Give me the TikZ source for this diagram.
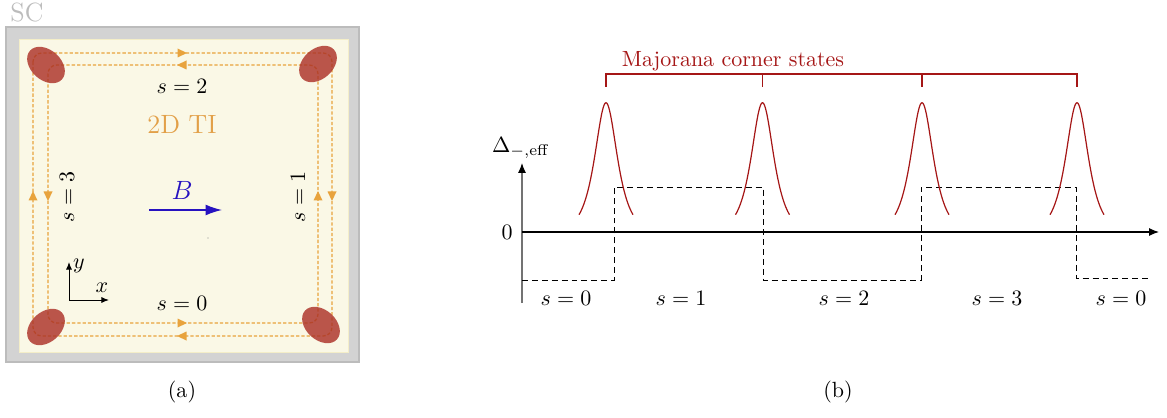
\documentclass[tikz,border=0pt]{standalone}
\usetikzlibrary{arrows.meta}
\definecolor{scgray}{RGB}{211,211,211}
\definecolor{scedge}{RGB}{188,188,188}
\definecolor{cream}{RGB}{250,248,230}
\definecolor{creamedge}{RGB}{244,238,200}
\definecolor{orng}{RGB}{232,163,61}
\definecolor{tiorng}{RGB}{226,160,72}
\definecolor{blobred}{RGB}{172,50,40}
\definecolor{bblue}{RGB}{38,18,192}
\definecolor{mred}{RGB}{165,22,22}
\tikzset{
  orbit/.style={orng, line width=0.6pt, dash pattern=on 1.5pt off 0.9pt, rounded corners=4pt},
  blob/.style={fill=blobred, fill opacity=0.82},
  orarrow/.pic={\fill[orng] (5,0) -- (-4.5,-4.5) -- (-4.5,4.5) -- cycle;},
  lbl/.style={inner sep=0pt},
  stepfn/.style={black, line width=0.42pt, dash pattern=on 2.7pt off 1.8pt},
  peak/.style={mred, line width=0.55pt},
  axis/.style={line width=0.5pt, -{Latex[length=4.5pt,width=3.6pt]}},
}
\begin{document}
\begin{tikzpicture}[x=0.4545pt,y=-0.4545pt]
\useasboundingbox (0,0) rectangle (1167,418);
% ---------------- panel (a) ----------------
\node[lbl, text=scedge, font=\large] (sc) at (27,12) {SC};
\draw[scedge, fill=scgray, line width=0.5pt] (6,27) rectangle (359,362);
\draw[creamedge, fill=cream, line width=0.4pt] (19,39) rectangle (348,352);
% edge channels
\draw[orbit] (33,53) rectangle (332,336);
\draw[orbit] (48,65) rectangle (318,323);
% outer loop arrows (clockwise)
\pic at (182,53) {orarrow};
\pic[rotate=-90] at (332,196) {orarrow};
\pic[rotate=180] at (182,336) {orarrow};
\pic[rotate=90] at (33,196) {orarrow};
% inner loop arrows (counter-clockwise)
\pic[rotate=180] at (182,65) {orarrow};
\pic[rotate=-90] at (48,196) {orarrow};
\pic at (182,323) {orarrow};
\pic[rotate=90] at (318,196) {orarrow};
% Majorana corner blobs
\fill[blob, rotate around={-42:(46,65)}] (46,65) ellipse [x radius=21.5, y radius=15];
\fill[blob, rotate around={42:(318,64)}] (318,64) ellipse [x radius=21.5, y radius=15];
\fill[blob, rotate around={42:(46,327)}] (46,327) ellipse [x radius=21.5, y radius=15];
\fill[blob, rotate around={-42:(321,325)}] (321,325) ellipse [x radius=21.5, y radius=15];
% texts
\node[lbl] (s2) at (182,86) {$s=2$};
\node[lbl, text=tiorng, font=\large] (ti) at (182,124) {2D TI};
\node[lbl, rotate=90] (s3) at (67,197) {$s=3$};
\node[lbl, rotate=90] (s1) at (298,197) {$s=1$};
\node[lbl] (s0) at (182,303) {$s=0$};
\node[lbl, text=bblue, font=\fontsize{13}{15}\selectfont] (B) at (182,190) {$B$};
\coordinate (b0) at (149,210);
\coordinate (b1) at (222,210);
\draw[bblue, line width=0.65pt, -{Latex[length=7.5pt,width=5pt]}] (b0) -- (b1);
\fill[black!45] (208,238) circle [radius=0.7];
% coordinate axes
\coordinate (o) at (69,300);
\coordinate (oy) at (69,262);
\coordinate (ox) at (109,300);
\draw[line width=0.45pt, -{Latex[length=3.5pt,width=2.8pt]}] (o) -- (oy);
\draw[line width=0.45pt, -{Latex[length=3.5pt,width=2.8pt]}] (o) -- (ox);
\node[lbl] (ylab) at (79,266) {$y$};
\node[lbl] (xlab) at (102,288) {$x$};
\node (pa) at (182,392) {(a)};
% ---------------- panel (b) ----------------
\coordinate (vax0) at (522,303);
\coordinate (vax1) at (522,163);
\coordinate (hax0) at (522,232);
\coordinate (hax1) at (1159,232);
\draw[line width=0.5pt, black!55, -{Latex[length=4.5pt,width=3.6pt,black]}] (vax0) -- (vax1);
\draw[axis] (hax0) -- (hax1);
\node[lbl] (delta) at (521,148) {$\Delta_{-,\mathrm{eff}}$};
\node[lbl] (zero) at (507,232) {$0$};
% step function
\draw[stepfn] (522,280) -- (614,280) -- (614,187) -- (763,187) -- (763,280) -- (921,280) -- (921,187) -- (1076,187) -- (1076,278) -- (1148,278);
% peaks
\foreach \c in {606,762.5,922,1077}{
  \draw[peak] plot[domain=-27:27, samples=61, smooth] ({\c+\x},{232-129.3/cosh(\x/10)});
}
% bracket
\coordinate (k1) at (606,87);
\coordinate (k2) at (762.5,87);
\coordinate (k3) at (922,87);
\coordinate (k4) at (1077,87);
\draw[mred, line width=0.55pt] (k1) -- (606,74) -- (1077,74) -- (k4);
\draw[mred, line width=0.55pt] (k2) -- (762.5,74);
\draw[mred, line width=0.55pt] (k3) -- (922,74);
\node[lbl, text=mred, anchor=base] (maj) at (733,67) {Majorana corner states};
% sector labels
\node[lbl] (t0) at (566,298) {$s=0$};
\node[lbl] (t1) at (681,298) {$s=1$};
\node[lbl] (t2) at (844,298) {$s=2$};
\node[lbl] (t3) at (997,298) {$s=3$};
\node[lbl] (t4) at (1121,298) {$s=0$};
\node (pb) at (838,392) {(b)};
\end{tikzpicture}
\end{document}
